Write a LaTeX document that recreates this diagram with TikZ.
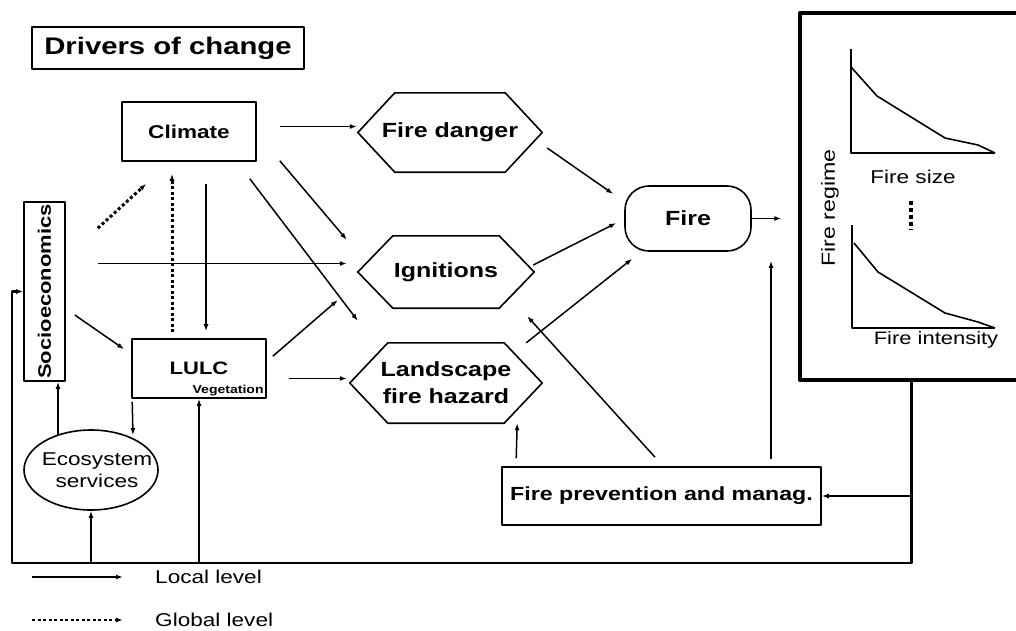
\documentclass[tikz,border=0pt]{standalone}
\usepackage{fontspec}
\setmainfont{Liberation Sans}[FakeStretch=1.22]
\usepackage{graphicx}
\usetikzlibrary{arrows.meta,shapes.geometric}
\tikzset{
  every picture/.style={
    line join=round,
    >={Latex[length=7pt,width=5pt]},   % small filled tips everywhere
  },
  box/.style={draw, line width=1.6pt, inner sep=0pt},
  hexbox/.style={inner sep=0pt, align=center, font=\bfseries\fontsize{20.5}{27}\selectfont},
  txt/.style={inner sep=0pt, font=\fontsize{18.5}{22}\selectfont},
  locallink/.style={->, line width=1.5pt},
  globallink/.style={->, line width=3pt, dash pattern=on 3pt off 2.5pt},
  feedback/.style={line width=2.4pt},
}

\begin{document}
\begin{tikzpicture}[x=1pt,y=-1pt]
\useasboundingbox (0,0) rectangle (1016,630);

% drivers
\node[box, minimum width=272pt, minimum height=42pt, font=\bfseries\fontsize{24}{28}\selectfont] (drivers) at (168,48) {Drivers of change};
\node[box, minimum width=134pt, minimum height=59pt, font=\bfseries\fontsize{18.5}{22}\selectfont] (climate) at (189,131.5) {Climate};
\node[box, minimum width=41pt, minimum height=179pt, font=\bfseries\fontsize{18}{22}\selectfont] (socio) at (44.5,291.5) {\rotatebox{90}{Socioeconomics}};
\node[box, minimum width=134pt, minimum height=59pt, font=\bfseries\fontsize{18}{22}\selectfont] (lulc) at (199,368.5) {LULC};
\node[anchor=base east, inner sep=0pt, font=\bfseries\fontsize{11.5}{13}\selectfont] (veg) at ([xshift=-3pt,yshift=5pt]lulc.south east) {Vegetation};
\node[ellipse, draw, line width=1.6pt, minimum width=134pt, minimum height=80pt] (eco) at (91,470) {};
\node[txt, align=center] (ecotext) at ([xshift=6pt]eco.center) {Ecosystem\\services};

% hexagons: node gives the outline, corners cut in by \d
\node[hexbox, minimum width=184pt, minimum height=79pt] (danger) at (450,132.5) {Fire danger};
\node[hexbox, minimum width=176pt, minimum height=72pt] (ign) at (446,272) {Ignitions};
\node[hexbox, minimum width=192pt, minimum height=80pt] (hazard) at (446,383) {Landscape\\fire hazard};
\foreach \n/\d in {danger/37,ign/35,hazard/38}
  \draw[line width=1.6pt] ([xshift=\d pt]\n.north west) -- ([xshift=-\d pt]\n.north east) -- (\n.east)
    -- ([xshift=-\d pt]\n.south east) -- ([xshift=\d pt]\n.south west) -- (\n.west) -- cycle;

\node[box, rounded corners=24pt, minimum width=126pt, minimum height=65pt, font=\bfseries\fontsize{20.5}{24}\selectfont] (fire) at (688,218.5) {Fire};
\node[box, minimum width=319pt, minimum height=58pt, font=\bfseries\fontsize{19}{22}\selectfont] (prev) at (661.5,496) {Fire prevention and manag.};

% fire regime panel
\node[draw, line width=3.4pt, minimum width=240pt, minimum height=367pt] (regime) at (920,196.5) {};
\node[txt, rotate=90, font=\fontsize{19}{22}\selectfont] (regimetext) at (830,208) {Fire regime};
\draw[line width=1.8pt] (851,49) -- (851,153) -- (995,153);
\draw[line width=1.6pt] (851,67) -- (877,96) -- (945,138) -- (978,145) -- (995,153);
\node[txt] (size) at (913,177) {Fire size};
\draw[line width=4.5pt, dash pattern=on 4pt off 3pt] (911,201) -- (911,230);
\draw[line width=1.8pt] (852,225) -- (852,328) -- (995,328);
\draw[line width=1.6pt] (854,243) -- (878,272) -- (945,313) -- (978,322) -- (995,328);
\node[txt, font=\fontsize{18}{22}\selectfont] (intensity) at (936,340) {Fire intensity};

% links from the drivers
\draw[locallink] ([xshift=23pt,yshift=5pt]climate.east) -- ([xshift=-1pt,yshift=6pt]danger.west);
\draw[locallink] ([xshift=23pt,yshift=1pt]climate.south east) -- ([xshift=-11pt,yshift=-4pt]ign.north west);
\draw[locallink] ([xshift=-7pt,yshift=-17pt]climate.south east) -- ([xshift=8pt,yshift=22pt]hazard.north west);
\draw[locallink] ([xshift=17pt,yshift=-22pt]climate.south) -- ([xshift=7pt,yshift=7pt]lulc.north);
\draw[globallink] ([xshift=-27pt,yshift=6pt]lulc.north) -- ([xshift=-17pt,yshift=-12pt]climate.south);
\draw[globallink] ([xshift=32pt,yshift=-27pt]socio.north east) -- ([xshift=25pt,yshift=-22pt]climate.south west);
\draw[locallink] ([xshift=32pt,yshift=28pt]socio.east) -- ([xshift=-11pt,yshift=8.5pt]ign.west);
\draw[locallink] ([xshift=9pt,yshift=-23.5pt]socio.east) -- ([xshift=-7pt,yshift=-11pt]lulc.north west);
\draw[locallink] ([xshift=6pt,yshift=-18pt]lulc.north east) -- ([xshift=-20pt,yshift=-28pt]ign.west);
\draw[locallink] ([xshift=22pt,yshift=-10pt]lulc.east) -- ([xshift=-3pt,yshift=4.5pt]hazard.west);
\draw[locallink] ([xshift=1pt,yshift=-3pt]lulc.south west) -- ([xshift=42pt,yshift=-6pt]eco.north);
\draw[locallink] ([xshift=-33pt,yshift=-7pt]eco.north) -- ([xshift=13.5pt]socio.south);

% into fire
\draw[locallink] ([xshift=5pt,yshift=-15.5pt]danger.east) -- ([xshift=-11pt,yshift=24.5pt]fire.west);
\draw[locallink] ([xshift=-1pt,yshift=7pt]ign.east) -- ([xshift=-8pt,yshift=-4.5pt]fire.west);
\draw[locallink] ([xshift=-16pt]hazard.north east) -- ([xshift=8pt,yshift=-7pt]fire.south west);
\draw[locallink, shorten >=17pt] (fire.east) -- (fire.east -| regime.west);

% management
\draw[locallink] ([xshift=109.5pt,yshift=7pt]prev.north) -- ([xshift=83pt,yshift=-9pt]fire.south);
\draw[locallink] ([xshift=-6.5pt,yshift=9pt]prev.north) -- ([xshift=-7pt,yshift=-8pt]ign.south east);
\draw[locallink] ([xshift=15pt,yshift=8pt]prev.north west) -- ([xshift=-25pt]hazard.south east);

% feedback loop back to the drivers
\coordinate (rb) at ([xshift=113pt]regime.south west);
\coordinate (base) at (12,563);
\draw[feedback, ->] (rb) |- (base) |- (socio.west);
\draw[locallink] (rb |- prev.east) -- (prev.east);
\draw[locallink, line width=1.8pt] (eco.south |- base) -- (eco.south);
\draw[locallink, line width=1.8pt] (lulc.south |- base) -- (lulc.south);

% legend
\node[txt, anchor=west] (locallab) at (155,577) {Local level};
\node[txt, anchor=west] (globallab) at (155,620) {Global level};
\draw[locallink] ([xshift=-123pt]locallab.west) -- ([xshift=-32pt]locallab.west);
\draw[globallink, line width=2.4pt] ([xshift=-123pt]globallab.west) -- ([xshift=-32pt]globallab.west);
\end{tikzpicture}
\end{document}
